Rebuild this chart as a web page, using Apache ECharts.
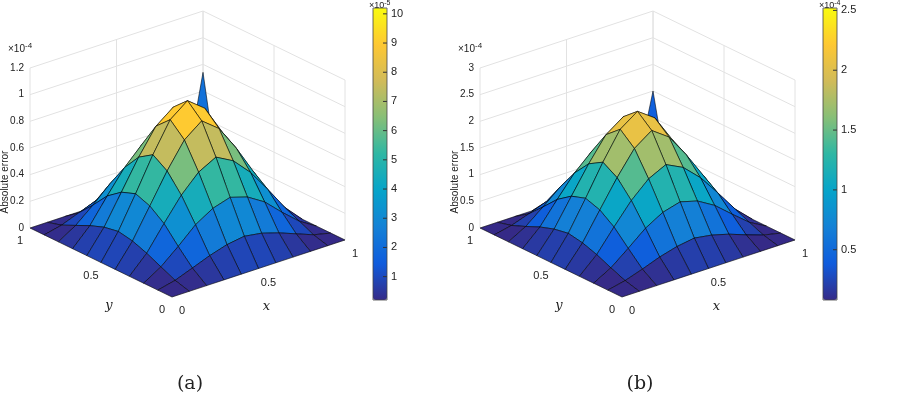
<!DOCTYPE html>
<html><head><meta charset="utf-8">
<script src="https://cdn.jsdelivr.net/npm/echarts@6/dist/echarts.min.js"></script>
<style>html,body{margin:0;padding:0;background:#fff}#c{width:913px;height:407px}</style>
</head><body><div id="c"></div>
<script>
// grid coordinates (x and y, 0..1)
const gridPts = [0,0.1,0.2,0.3,0.4,0.5,0.6,0.7,0.8,0.9,1];
// panel (a) absolute error, units 1e-4 (rows = y, cols = x)
const errA = [
 [0,0,0,0,0,0,0,0,0,0,0],
 [0,.03,.08,.13,.17,.19,.17,.13,.08,.03,0],
 [0,.08,.19,.31,.39,.43,.39,.31,.19,.08,0],
 [0,.13,.31,.48,.61,.68,.61,.48,.31,.13,0],
 [0,.17,.39,.61,.80,.90,.80,.61,.39,.17,0],
 [0,.19,.43,.68,.90,1.0,.90,.68,.43,.19,0],
 [0,.17,.39,.61,.80,.90,.80,.61,.39,.17,0],
 [0,.13,.31,.48,.61,.68,.61,.48,.31,.13,0],
 [0,.08,.19,.31,.39,.43,.39,.31,.19,.08,0],
 [0,.03,.08,.13,.17,.19,.17,.13,.08,.03,.05],
 [0,0,0,0,0,0,0,0,0,.05,.74]
];
// panel (b) absolute error, units 1e-4
const errB = [
 [0,0,0,0,0,0,0,0,0,0,0],
 [0,.07,.18,.30,.39,.44,.39,.30,.18,.07,0],
 [0,.18,.44,.71,.90,.99,.90,.71,.44,.18,0],
 [0,.30,.71,1.10,1.40,1.56,1.40,1.10,.71,.30,0],
 [0,.39,.90,1.40,1.84,2.07,1.84,1.40,.90,.39,0],
 [0,.44,.99,1.56,2.07,2.30,2.07,1.56,.99,.44,0],
 [0,.39,.90,1.40,1.84,2.07,1.84,1.40,.90,.39,0],
 [0,.30,.71,1.10,1.40,1.56,1.40,1.10,.71,.30,0],
 [0,.18,.44,.71,.90,.99,.90,.71,.44,.18,0],
 [0,.07,.18,.30,.39,.44,.39,.30,.18,.07,.05],
 [0,0,0,0,0,0,0,0,0,.05,1.50]
];
const zTicksA = [0,0.2,0.4,0.6,0.8,1,1.2];
const zTicksB = [0,0.5,1,1.5,2,2.5,3];
const xyTicks = [0,0.5,1];
const cbTicksA = [1,2,3,4,5,6,7,8,9,10];   // ×1e-5
const cbTicksB = [0.5,1,1.5,2,2.5];        // ×1e-4
const parula = ['#352a87','#0f5cdd','#1481d6','#06a4ca','#2eb7a4','#87bf77','#d1bb59','#fec832','#f9fb0e'];

const DX=[173,57], DY=[-142,69], DZ=160;
function proj(x,y,zn){return [x*DX[0]+y*DY[0], x*DX[1]+y*DY[1]+zn*DZ];}

function cells(Z){
  const out=[];
  for(let i=0;i<10;i++)for(let j=0;j<10;j++){
    const avg=(Z[i][j]+Z[i+1][j]+Z[i][j+1]+Z[i+1][j+1])/4;
    out.push([j,i,avg,i+j]);
  }
  out.sort((a,b)=>b[3]-a[3]);
  return out;
}
function surfSeries(Z,zmax,gi){
  return {type:'custom',xAxisIndex:gi,yAxisIndex:gi,coordinateSystem:'cartesian2d',
    data:cells(Z),encode:{x:0,y:1},z:5,
    renderItem:function(params,api){
      const j=api.value(0),i=api.value(1);
      const c=[[i,j],[i,j+1],[i+1,j+1],[i+1,j]].map(([r,q])=>api.coord(proj(gridPts[q],gridPts[r],Z[r][q]/zmax)));
      return {type:'polygon',shape:{points:c},style:{fill:api.visual('color'),stroke:'rgba(0,0,0,0.8)',lineWidth:0.7}};
    }};
}
function boxLines(zTicks){
  const zmax=zTicks[zTicks.length-1], L=[];
  zTicks.forEach(t=>{const z=t/zmax;L.push([[0,1,z],[1,1,z]]);L.push([[1,1,z],[1,0,z]]);});
  xyTicks.forEach(t=>{L.push([[t,1,0],[t,1,1]]);L.push([[1,t,0],[1,t,1]]);
    L.push([[t,0,0],[t,1,0]]);L.push([[0,t,0],[1,t,0]]);});
  return L;
}
function boxSeries(zTicks,gi){
  return {type:'custom',xAxisIndex:gi,yAxisIndex:gi,coordinateSystem:'cartesian2d',data:boxLines(zTicks).map((l,k)=>[k]),z:1,silent:true,
    renderItem:function(params,api){
      const l=boxLines(zTicks)[api.value(0)];
      const a=api.coord(proj(...l[0])),b=api.coord(proj(...l[1]));
      return {type:'line',shape:{x1:a[0],y1:a[1],x2:b[0],y2:b[1]},style:{stroke:'#e2e2e2',lineWidth:1}};
    }};
}
const OX=[30,480];
function grid(k){return {left:OX[k],top:11,width:315,height:286};}
function gx(k){return {type:'value',gridIndex:k,min:-142,max:173,show:false};}
function gy(k){return {type:'value',gridIndex:k,min:0,max:286,show:false};}

const chart=echarts.init(document.getElementById('c'));
function scr(k,x,y,zn){const p=proj(x,y,zn);return [OX[k]+142+p[0],297-p[1]];}
const g=[];
const T=(x,y,text,extra)=>g.push(Object.assign({type:'text',x,y,style:Object.assign({text,fill:'#222',font:'11px Liberation Sans, Arial'},extra&&extra.style||{})},extra&&extra.rest||{}));
[zTicksA,zTicksB].forEach((zt,k)=>{
  const zmax=zt[zt.length-1];
  zt.forEach(t=>{const p=scr(k,0,1,t/zmax);T(p[0]-6,p[1],String(t),{style:{align:'right',verticalAlign:'middle',font:'10px Liberation Sans'}});});
  const top=scr(k,0,1,1);
  g.push({type:'text',x:top[0]-22,y:top[1]-26,style:{rich:{a:{font:'10px Liberation Sans',fill:'#222'},s:{font:'8px Liberation Sans',fill:'#222',verticalAlign:'top',padding:[0,0,6,0]}},text:'{a|\u00d710}{s|-4}'}});
  g.push({type:'text',x:OX[k]-25,y:182,rotation:Math.PI/2,style:{text:'Absolute error',fill:'#222',font:'10px Liberation Sans',align:'center',verticalAlign:'middle'}});
  xyTicks.forEach(t=>{let p=scr(k,t,0,0);T(p[0]+10,p[1]+14,String(t),{style:{align:'center',verticalAlign:'middle'}});
    p=scr(k,0,t,0);T(p[0]-10,p[1]+13,String(t),{style:{align:'center',verticalAlign:'middle'}});});
  let p=scr(k,0.5,0,0);T(p[0]+8,p[1]+38,'x',{style:{font:'italic 13px DejaVu Serif',align:'center',verticalAlign:'middle'}});
  p=scr(k,0,0.5,0);T(p[0]+8,p[1]+43,'y',{style:{font:'italic 13px DejaVu Serif',align:'center',verticalAlign:'middle'}});
  T(OX[k]+160,384,k?'(b)':'(a)',{style:{font:'19px DejaVu Serif',align:'center',verticalAlign:'middle'}});
});
// colorbar tick labels
const CB=[{x:373,min:0.2,max:10.2,ticks:cbTicksA,sup:'-5'},{x:823,min:0.08,max:2.52,ticks:cbTicksB,sup:'-4'}];
CB.forEach(c=>{
  c.ticks.forEach(t=>{const y=300-(t-c.min)/(c.max-c.min)*292;T(c.x+18,y,String(t),{style:{verticalAlign:'middle'}});
    g.push({type:'line',shape:{x1:c.x+10,y1:y,x2:c.x+14,y2:y},style:{stroke:'#333'},z:100});});
  g.push({type:'text',x:c.x-4,y:0,style:{rich:{a:{font:'9px Liberation Sans',fill:'#222'},s:{font:'7px Liberation Sans',fill:'#222',verticalAlign:'top',padding:[0,0,5,0]}},text:'{a|\u00d710}{s|'+c.sup+'}'}});
  g.push({type:'rect',shape:{x:c.x,y:8,width:14,height:292},style:{fill:'none',stroke:'#444',lineWidth:0.8},z:100});
});

chart.setOption({
  animation:false,
  grid:[grid(0),grid(1)],xAxis:[gx(0),gx(1)],yAxis:[gy(0),gy(1)],
  visualMap:[
    {type:'continuous',seriesIndex:1,dimension:2,min:0.02,max:1.02,calculable:false,left:373,top:8,padding:0,itemWidth:14,itemHeight:292,text:null,showLabel:false,inRange:{color:parula}},
    {type:'continuous',seriesIndex:3,dimension:2,min:0.08,max:2.52,calculable:false,left:823,top:8,padding:0,itemWidth:14,itemHeight:292,text:null,showLabel:false,inRange:{color:parula}}
  ],
  series:[boxSeries(zTicksA,0),surfSeries(errA,1.2,0),boxSeries(zTicksB,1),surfSeries(errB,3,1)],
  graphic:g
});
</script></body></html>
